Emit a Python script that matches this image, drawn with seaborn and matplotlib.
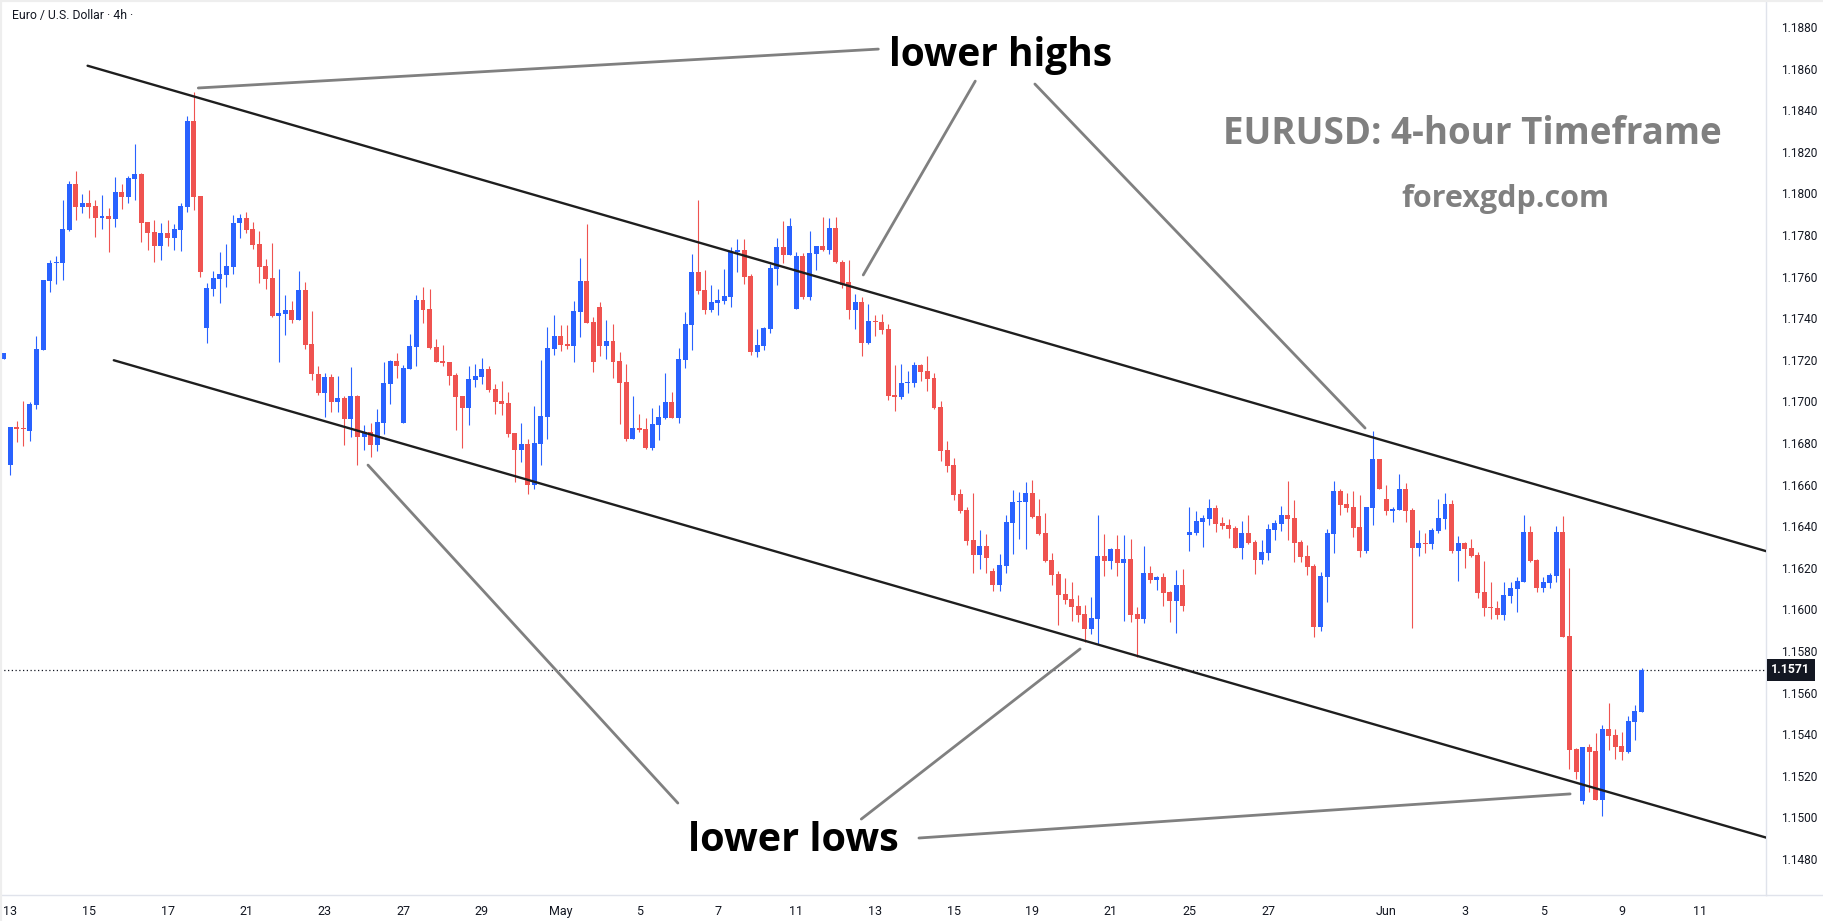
import numpy as np
import pandas as pd
import matplotlib
matplotlib.use("Agg")
import matplotlib.pyplot as plt
from matplotlib.lines import Line2D
import seaborn as sns

# EURUSD 4h candles, first one (bar -1) is cut by the left edge
opens = [
    1.17202,
    1.16696, 1.16877, 1.16870, 1.16859, 1.16984, 1.17249, 1.17580, 1.17667, 1.17667, 1.17824,
    1.18045, 1.17936, 1.17952, 1.17939, 1.17883, 1.17891, 1.17878, 1.18007, 1.17984, 1.18071,
    1.18093, 1.17862, 1.17814, 1.17749, 1.17810, 1.17787, 1.17824, 1.17936, 1.18348, 1.17987,
    1.17355, 1.17542, 1.17590, 1.17609, 1.17648, 1.17856, 1.17882, 1.17829, 1.17757, 1.17651,
    1.17593, 1.17412, 1.17422, 1.17439, 1.17393, 1.17536, 1.17276, 1.17133, 1.17042, 1.17117,
    1.16999, 1.17016, 1.16917, 1.17026, 1.16830, 1.16851, 1.16792, 1.16898, 1.17085, 1.17194,
    1.16898, 1.17157, 1.17263, 1.17487, 1.17444, 1.17261, 1.17194, 1.17189, 1.17127, 1.17026,
    1.16970, 1.17104, 1.17119, 1.17156, 1.17060, 1.17002, 1.16992, 1.16848, 1.16768, 1.16795,
    1.16600, 1.16797, 1.16927, 1.17253, 1.17314, 1.17276, 1.17268, 1.17431, 1.17579, 1.17382,
    1.17454, 1.17268, 1.17290, 1.17194, 1.17093, 1.16821, 1.16872, 1.16867, 1.16777, 1.16888,
    1.16920, 1.16997, 1.16920, 1.17199, 1.17369, 1.17622, 1.17536, 1.17439, 1.17475, 1.17483,
    1.17502, 1.17718, 1.17728, 1.17603, 1.17237, 1.17268, 1.17350, 1.17638, 1.17742, 1.17705,
    1.17446, 1.17699, 1.17503, 1.17710, 1.17747, 1.17728, 1.17834, 1.17672, 1.17574, 1.17441,
    1.17478, 1.17282, 1.17388, 1.17382, 1.17348, 1.17031, 1.17019, 1.17087, 1.17088, 1.17175,
    1.17146, 1.17112, 1.16973, 1.16766, 1.16694, 1.16555, 1.16478, 1.16334, 1.16263, 1.16305,
    1.16185, 1.16119, 1.16209, 1.16415, 1.16516, 1.16516, 1.16560, 1.16449, 1.16367, 1.16238,
    1.16170, 1.16074, 1.16050, 1.16016, 1.15978, 1.15907, 1.15955, 1.16257, 1.16234, 1.16290,
    1.16223, 1.16242, 1.15978, 1.15955, 1.16175, 1.16143, 1.16156, 1.16084, 1.16042, 1.16117,
    1.16358, 1.16367, 1.16420, 1.16435, 1.16488, 1.16415, 1.16406, 1.16391, 1.16297, 1.16367,
    1.16324, 1.16239, 1.16273, 1.16383, 1.16412, 1.16454, 1.16439, 1.16324, 1.16257, 1.16209,
    1.15917, 1.16157, 1.16364, 1.16569, 1.16507, 1.16492, 1.16396, 1.16282, 1.16489, 1.16723,
    1.16531, 1.16475, 1.16479, 1.16579, 1.16478, 1.16297, 1.16319, 1.16316, 1.16379, 1.16436,
    1.16507, 1.16282, 1.16319, 1.16295, 1.16262, 1.16084, 1.16012, 1.16007, 1.15975, 1.16066,
    1.16100, 1.16133, 1.16372, 1.16238, 1.16105, 1.16129, 1.16162, 1.16372, 1.15872, 1.15330,
    1.15080, 1.15338, 1.15319, 1.15085, 1.15425, 1.15396, 1.15343, 1.15316, 1.15460, 1.15508,
]
highs = [
    1.17231,
    1.16877, 1.16906, 1.17002, 1.16995, 1.17314, 1.17584, 1.17680, 1.17699, 1.17968, 1.18061,
    1.18108, 1.17997, 1.18016, 1.17968, 1.17992, 1.17930, 1.18079, 1.18045, 1.18084, 1.18237,
    1.18096, 1.17862, 1.17872, 1.17858, 1.17872, 1.17853, 1.17952, 1.18372, 1.18487, 1.17987,
    1.17569, 1.17627, 1.17718, 1.17757, 1.17896, 1.17899, 1.17911, 1.17863, 1.17818, 1.17685,
    1.17762, 1.17637, 1.17512, 1.17483, 1.17627, 1.17574, 1.17435, 1.17170, 1.17137, 1.17133,
    1.17122, 1.17026, 1.17167, 1.17031, 1.16887, 1.16896, 1.16963, 1.17189, 1.17199, 1.17233,
    1.17175, 1.17324, 1.17511, 1.17550, 1.17540, 1.17300, 1.17271, 1.17189, 1.17137, 1.17026,
    1.17170, 1.17180, 1.17209, 1.17170, 1.17084, 1.17098, 1.17045, 1.16848, 1.16898, 1.16821,
    1.16978, 1.17199, 1.17358, 1.17415, 1.17367, 1.17367, 1.17483, 1.17689, 1.17853, 1.17406,
    1.17478, 1.17391, 1.17372, 1.17237, 1.17181, 1.17026, 1.16939, 1.16920, 1.16968, 1.16983,
    1.17136, 1.17045, 1.17257, 1.17430, 1.17709, 1.17968, 1.17632, 1.17560, 1.17540, 1.17636,
    1.17742, 1.17781, 1.17781, 1.17612, 1.17348, 1.17358, 1.17661, 1.17786, 1.17867, 1.17882,
    1.17718, 1.17713, 1.17819, 1.17747, 1.17885, 1.17880, 1.17885, 1.17680, 1.17680, 1.17516,
    1.17502, 1.17468, 1.17415, 1.17420, 1.17372, 1.17175, 1.17180, 1.17146, 1.17189, 1.17180,
    1.17218, 1.17136, 1.17002, 1.16810, 1.16728, 1.16579, 1.16492, 1.16560, 1.16382, 1.16362,
    1.16200, 1.16266, 1.16454, 1.16574, 1.16564, 1.16612, 1.16622, 1.16531, 1.16463, 1.16271,
    1.16185, 1.16151, 1.16132, 1.16069, 1.16021, 1.16060, 1.16454, 1.16362, 1.16295, 1.16358,
    1.16358, 1.16338, 1.16012, 1.16305, 1.16209, 1.16161, 1.16175, 1.16088, 1.16189, 1.16194,
    1.16492, 1.16473, 1.16454, 1.16531, 1.16502, 1.16444, 1.16435, 1.16401, 1.16425, 1.16454,
    1.16334, 1.16334, 1.16411, 1.16430, 1.16497, 1.16617, 1.16526, 1.16334, 1.16310, 1.16218,
    1.16180, 1.16387, 1.16617, 1.16579, 1.16560, 1.16569, 1.16550, 1.16492, 1.16858, 1.16723,
    1.16599, 1.16492, 1.16651, 1.16608, 1.16488, 1.16382, 1.16367, 1.16391, 1.16531, 1.16560,
    1.16526, 1.16353, 1.16326, 1.16339, 1.16276, 1.16233, 1.16132, 1.16040, 1.16132, 1.16132,
    1.16156, 1.16454, 1.16401, 1.16242, 1.16156, 1.16175, 1.16401, 1.16449, 1.16197, 1.15335,
    1.15338, 1.15353, 1.15407, 1.15444, 1.15552, 1.15425, 1.15411, 1.15487, 1.15540, 1.15717,
]
lows = [
    1.17202,
    1.16646, 1.16806, 1.16787, 1.16811, 1.16965, 1.17249, 1.17528, 1.17566, 1.17584, 1.17821,
    1.17874, 1.17907, 1.17883, 1.17792, 1.17829, 1.17720, 1.17840, 1.17927, 1.17955, 1.17970,
    1.17768, 1.17729, 1.17672, 1.17681, 1.17749, 1.17729, 1.17725, 1.17912, 1.17922, 1.17597,
    1.17282, 1.17508, 1.17475, 1.17552, 1.17614, 1.17787, 1.17811, 1.17734, 1.17571, 1.17542,
    1.17407, 1.17191, 1.17321, 1.17379, 1.17393, 1.17254, 1.17105, 1.17032, 1.16927, 1.16951,
    1.16951, 1.16792, 1.16830, 1.16696, 1.16768, 1.16734, 1.16763, 1.16845, 1.16989, 1.17114,
    1.16898, 1.17157, 1.17172, 1.17378, 1.17253, 1.17191, 1.17172, 1.17080, 1.16864, 1.16777,
    1.16888, 1.17071, 1.17085, 1.17047, 1.16941, 1.16936, 1.16830, 1.16614, 1.16710, 1.16556,
    1.16580, 1.16696, 1.16821, 1.17224, 1.17244, 1.17253, 1.17191, 1.17311, 1.17378, 1.17143,
    1.17220, 1.17205, 1.17114, 1.16893, 1.16811, 1.16821, 1.16854, 1.16773, 1.16768, 1.16816,
    1.16915, 1.16920, 1.16898, 1.17160, 1.17247, 1.17516, 1.17420, 1.17430, 1.17415, 1.17468,
    1.17454, 1.17622, 1.17564, 1.17224, 1.17215, 1.17249, 1.17330, 1.17561, 1.17667, 1.17705,
    1.17446, 1.17494, 1.17489, 1.17633, 1.17723, 1.17710, 1.17664, 1.17547, 1.17398, 1.17350,
    1.17220, 1.17278, 1.17316, 1.17326, 1.17008, 1.16955, 1.17013, 1.17042, 1.17071, 1.17100,
    1.17052, 1.16965, 1.16715, 1.16662, 1.16527, 1.16465, 1.16311, 1.16177, 1.16196, 1.16177,
    1.16090, 1.16090, 1.16177, 1.16266, 1.16338, 1.16290, 1.16439, 1.16358, 1.16228, 1.16117,
    1.15927, 1.16028, 1.15946, 1.15941, 1.15845, 1.15883, 1.15835, 1.16162, 1.16194, 1.16161,
    1.15946, 1.15941, 1.15773, 1.15936, 1.16129, 1.16095, 1.16018, 1.15941, 1.15888, 1.15994,
    1.16282, 1.16358, 1.16302, 1.16406, 1.16372, 1.16387, 1.16343, 1.16297, 1.16244, 1.16316,
    1.16172, 1.16220, 1.16239, 1.16335, 1.16379, 1.16335, 1.16229, 1.16229, 1.16167, 1.15869,
    1.15898, 1.16037, 1.16273, 1.16454, 1.16468, 1.16350, 1.16254, 1.16273, 1.16407, 1.16580,
    1.16456, 1.16422, 1.16479, 1.16422, 1.15911, 1.16258, 1.16273, 1.16292, 1.16369, 1.16388,
    1.16273, 1.16138, 1.16201, 1.16254, 1.16056, 1.15970, 1.15955, 1.15955, 1.15951, 1.16032,
    1.15989, 1.16133, 1.16229, 1.16085, 1.16085, 1.16105, 1.16133, 1.15869, 1.15234, 1.15186,
    1.15066, 1.15124, 1.15085, 1.15008, 1.15326, 1.15282, 1.15278, 1.15311, 1.15374, 1.15508,
]
closes = [
    1.17231,
    1.16877, 1.16866, 1.16866, 1.16987, 1.17252, 1.17584, 1.17665, 1.17670, 1.17829, 1.18045,
    1.17936, 1.17952, 1.17936, 1.17883, 1.17891, 1.17878, 1.18007, 1.17984, 1.18074, 1.18093,
    1.17859, 1.17811, 1.17749, 1.17810, 1.17787, 1.17829, 1.17939, 1.18348, 1.17984, 1.17624,
    1.17545, 1.17593, 1.17612, 1.17651, 1.17858, 1.17880, 1.17826, 1.17754, 1.17648, 1.17590,
    1.17412, 1.17425, 1.17439, 1.17393, 1.17536, 1.17273, 1.17130, 1.17042, 1.17117, 1.16999,
    1.17016, 1.16917, 1.17026, 1.16830, 1.16851, 1.16792, 1.16901, 1.17088, 1.17194, 1.17172,
    1.17160, 1.17266, 1.17487, 1.17441, 1.17258, 1.17191, 1.17186, 1.17124, 1.17023, 1.16970,
    1.17108, 1.17122, 1.17156, 1.17056, 1.16997, 1.16989, 1.16845, 1.16768, 1.16795, 1.16600,
    1.16800, 1.16930, 1.17257, 1.17314, 1.17273, 1.17268, 1.17435, 1.17579, 1.17378, 1.17191,
    1.17268, 1.17290, 1.17191, 1.17090, 1.16821, 1.16872, 1.16864, 1.16777, 1.16891, 1.16925,
    1.16997, 1.16920, 1.17204, 1.17372, 1.17622, 1.17531, 1.17439, 1.17478, 1.17487, 1.17507,
    1.17723, 1.17728, 1.17598, 1.17237, 1.17271, 1.17353, 1.17641, 1.17742, 1.17705, 1.17843,
    1.17699, 1.17503, 1.17713, 1.17747, 1.17728, 1.17834, 1.17668, 1.17561, 1.17441, 1.17478,
    1.17282, 1.17386, 1.17383, 1.17345, 1.17028, 1.17019, 1.17088, 1.17093, 1.17175, 1.17143,
    1.17109, 1.16970, 1.16763, 1.16691, 1.16552, 1.16475, 1.16330, 1.16263, 1.16305, 1.16249,
    1.16119, 1.16213, 1.16420, 1.16516, 1.16521, 1.16560, 1.16444, 1.16362, 1.16233, 1.16165,
    1.16071, 1.16045, 1.16013, 1.15975, 1.15907, 1.15959, 1.16257, 1.16234, 1.16290, 1.16223,
    1.16242, 1.15975, 1.15955, 1.16175, 1.16143, 1.16156, 1.16080, 1.16042, 1.16117, 1.16018,
    1.16372, 1.16425, 1.16439, 1.16488, 1.16411, 1.16401, 1.16387, 1.16297, 1.16367, 1.16321,
    1.16239, 1.16276, 1.16387, 1.16415, 1.16454, 1.16435, 1.16321, 1.16254, 1.16206, 1.15917,
    1.16161, 1.16367, 1.16569, 1.16502, 1.16488, 1.16393, 1.16282, 1.16492, 1.16723, 1.16580,
    1.16475, 1.16483, 1.16579, 1.16475, 1.16297, 1.16318, 1.16316, 1.16382, 1.16439, 1.16507,
    1.16282, 1.16319, 1.16292, 1.16258, 1.16080, 1.16008, 1.16008, 1.15975, 1.16069, 1.16103,
    1.16137, 1.16372, 1.16234, 1.16105, 1.16132, 1.16166, 1.16372, 1.15869, 1.15326, 1.15220,
    1.15338, 1.15316, 1.15085, 1.15425, 1.15393, 1.15340, 1.15316, 1.15463, 1.15512, 1.15710,
]

# day labels on the time axis and the bar each one sits on
day_labels = ["13", "15", "17", "21", "23", "27", "29", "May", "5", "7", "11",
              "13", "15", "19", "21", "25", "27", "Jun", "3", "5", "9", "11"]
day_bars = [0, 12, 24, 36, 48, 60, 72, 84, 96, 108, 120,
            132, 144, 156, 168, 180, 192, 210, 222, 234, 246, 258]

price_ticks = np.arange(1.1480, 1.18801, 0.002)
last_price = 1.1571

# descending channel, (bar, price) end points
upper_bars = [11.8, 280]
upper_prices = [1.18614, 1.16171]
lower_bars = [15.8, 280]
lower_prices = [1.17198, 1.14794]

BLUE = "#2962ff"
RED = "#ef5350"
INK = "#131722"
GREY = "#808080"
EDGE = "#e0e3eb"

sns.set_theme(style="white")
plt.rcParams["font.family"] = ["Roboto", "DejaVu Sans"]

df = pd.DataFrame({
    "bar": np.arange(-1, len(opens) - 1),
    "open": opens, "high": highs, "low": lows, "close": closes,
})
df["colour"] = np.where(df["close"] >= df["open"], BLUE, RED)
df["body_low"] = df[["open", "close"]].min(axis=1)
df["body"] = (df["close"] - df["open"]).abs().clip(lower=0.00005)

fig = plt.figure(figsize=(18.24, 9.21), dpi=100)
fig.patch.set_facecolor("white")
ax = fig.add_axes([0, 26 / 921, 1766 / 1824, 895 / 921])
ax.set_facecolor("white")

# candles: wick first, then the body on top
ax.vlines(df["bar"], df["low"], df["high"], colors=df["colour"], lw=0.8, zorder=2)
ax.bar(df["bar"], df["body"], bottom=df["body_low"], width=0.76,
       color=df["colour"], linewidth=0, zorder=3)

# channel lines
sns.lineplot(x=upper_bars, y=upper_prices, ax=ax, color="#1e1e1e", lw=1.7, zorder=4)
sns.lineplot(x=lower_bars, y=lower_prices, ax=ax, color="#1e1e1e", lw=1.7, zorder=4)

# pointer lines from the labels to the swing highs / lows
pointers = [
    ((132.5, 1.18694), (28.7, 1.18507)),
    ((147.3, 1.18540), (130.2, 1.17608)),
    ((156.4, 1.18526), (206.8, 1.16872)),
    ((101.9, 1.15069), (54.6, 1.16694)),
    ((129.9, 1.14992), (163.3, 1.15810)),
    ((138.7, 1.14901), (238.1, 1.15113)),
]
for (x0, y0), (x1, y1) in pointers:
    ax.plot([x0, x1], [y0, y1], color=GREY, lw=2.0, zorder=5)

ax.text(151.1, 1.18661, "lower highs", ha="center", va="center", fontsize=28,
        fontweight="bold", family=["Open Sans", "DejaVu Sans"], color="black", zorder=6)
ax.text(119.6, 1.14890, "lower lows", ha="center", va="center", fontsize=28.5,
        fontweight="bold", family=["Open Sans", "DejaVu Sans"], color="black", zorder=6)
ax.text(223.2, 1.18285, "EURUSD: 4-hour Timeframe", ha="center", va="center",
        fontsize=26.5, fontweight="bold", family=["Open Sans", "DejaVu Sans"], color=GREY)
ax.text(228.2, 1.17975, "forexgdp.com", ha="center", va="center",
        fontsize=22, fontweight="bold", family=["Open Sans", "DejaVu Sans"], color=GREY)

# last price line and tag
ax.axhline(last_price, color=INK, lw=0.9, ls=(0, (1, 2)), zorder=1)
ax.text(1.003, last_price, f"{last_price:.4f}", transform=ax.get_yaxis_transform(),
        ha="left", va="center", fontsize=8.8, fontweight="bold", color="white",
        bbox=dict(boxstyle="square,pad=0.35", fc=INK, ec="none"), zorder=7)

ax.set_xlim(-1.57, 268.0)
ax.set_ylim(1.14627, 1.18930)

ax.yaxis.tick_right()
ax.set_yticks(price_ticks)
ax.set_yticklabels([f"{p:.4f}" for p in price_ticks])
ax.set_xticks(day_bars)
ax.set_xticklabels(day_labels)
ax.tick_params(axis="y", length=0, pad=11, labelsize=8.6, labelcolor=INK)
ax.tick_params(axis="x", length=0, pad=7, labelsize=9, labelcolor=INK)
ax.grid(False)

for side in ["left", "top"]:
    ax.spines[side].set_visible(False)
for side in ["right", "bottom"]:
    ax.spines[side].set_color(EDGE)
    ax.spines[side].set_linewidth(1)

# separator under the price scale and a thin frame round the chart
fig.add_artist(Line2D([1766 / 1824, 1], [26 / 921, 26 / 921], color=EDGE, lw=1))
fig.add_artist(Line2D([0, 1], [1, 1], color="#eeeeee", lw=3))
fig.add_artist(Line2D([0, 0], [0, 1], color="#eeeeee", lw=3))

fig.text(12 / 1824, 1 - 16 / 921, "Euro / U.S. Dollar \u00b7 4h \u00b7", ha="left",
         va="center", fontsize=8.8, color=INK)

fig.savefig("out.png", dpi=100, facecolor="white")
